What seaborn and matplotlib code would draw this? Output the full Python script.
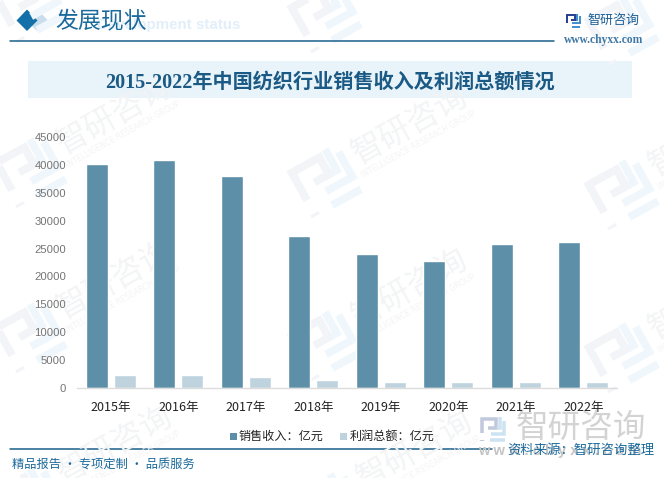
import math
import matplotlib
matplotlib.use('Agg')
import matplotlib.pyplot as plt
from matplotlib.patches import Polygon, Rectangle
import pandas as pd
import seaborn as sns

years = ['2015年', '2016年', '2017年', '2018年', '2019年', '2020年', '2021年', '2022年']
revenue = [40100, 40900, 38000, 27200, 24000, 22700, 25800, 26100]
profit = [2250, 2250, 2050, 1350, 1000, 1150, 1150, 1000]
y_ticks = list(range(0, 45001, 5000))
names = ['销售收入：亿元', '利润总额：亿元']
colors = ['#5d90a8', '#bed3dd']

W, H = 664, 478
CJK = ['Noto Sans CJK SC', 'DejaVu Sans']

sns.set_style('white')
plt.rcParams['font.family'] = CJK

df = pd.DataFrame({'year': years * 2,
                   'value': revenue + profit,
                   'name': [names[0]] * 8 + [names[1]] * 8})

fig = plt.figure(figsize=(W / 100, H / 100), dpi=100)

# full-figure layer in pixel coords for header, footer and watermarks
bg = fig.add_axes([0, 0, 1, 1], zorder=0)
bg.set_xlim(0, W)
bg.set_ylim(H, 0)
bg.axis('off')


def draw_logo(cx, cy, half, rot, c1, c2):
    a = math.radians(rot)

    def tr(pts):
        xs = [cx + half * (x * math.cos(a) + y * math.sin(a)) for x, y in pts]
        ys = [cy + half * (-x * math.sin(a) + y * math.cos(a)) for x, y in pts]
        return xs, ys

    lw = half * 0.26 * 0.72
    left = [(-0.85, 0.3), (-0.85, -0.75), (0.2, -0.75), (0.2, -0.1), (-0.35, -0.1)]
    right = [(0.85, -0.6), (0.85, 0.35), (-0.15, 0.35)]
    right2 = [(0.5, -0.9), (0.5, -0.1), (0.3, -0.1)]
    bottom = [(-0.2, 0.85), (0.9, 0.85)]
    dot = [(-0.85, 0.8), (-0.85, 0.9)]
    bg.plot(*tr(left), color=c1, lw=lw, solid_capstyle='butt', solid_joinstyle='miter')
    bg.plot(*tr(dot), color=c1, lw=lw * 1.2, solid_capstyle='butt')
    bg.plot(*tr(right), color=c2, lw=lw, solid_capstyle='butt', solid_joinstyle='miter')
    bg.plot(*tr(right2), color=c2, lw=lw, solid_capstyle='butt', solid_joinstyle='miter')
    bg.plot(*tr(bottom), color=c2, lw=lw, solid_capstyle='butt')


# watermarks, logo centres with the text up and to the right
wm_logos = [(30, 5), (325, 15), (622, 28), (30, 170), (325, 180), (622, 192),
            (30, 335), (325, 343), (622, 355), (30, 500), (330, 505)]
for x, y in wm_logos:
    draw_logo(x, y, 30, 29, '#f2f4f8', '#f0f7fc')
    tx, ty = x + 85, y - 55
    if ty < 60:
        continue
    bg.text(tx, ty, '智研咨询', fontsize=23, color='#f3f4f5', rotation=29, ha='center', va='center',
            rotation_mode='anchor')
    bg.text(tx + 8, ty + 20, 'INTELLIGENCE RESEARCH GROUP', fontsize=5.6, color='#f3f4f6',
            rotation=29, ha='center', va='center', rotation_mode='anchor', family='DejaVu Sans')

bg.add_patch(Rectangle((28, 61), 604, 37, color='#e8f3fa', lw=0))
bg.text(330, 83, '2015-2022年中国纺织行业销售收入及利润总额情况', fontsize=14.5, fontweight='bold',
        color='#1b5a84', ha='center', va='center', family=['Liberation Serif', 'Noto Sans CJK SC'])

# header
bg.text(240, 25, 'Development status', fontsize=10.9, fontweight='bold', color='#e2effa',
        ha='right', va='center', family='Liberation Sans')
bg.add_patch(Polygon([(37, 9), (48, 20.5), (37, 31), (26, 20.5)], color='#c9deec', lw=0))
bg.add_patch(Polygon([(27, 9.5), (37.5, 20.5), (27, 31), (16.5, 20.5)], color='#1470a8', lw=0))
bg.text(55, 20.5, '发展现状', fontsize=16.5, color='#1b6a9c', ha='left', va='center')
bg.plot([10, 554], [41, 41], color='#1b5f8a', lw=1.1)
bg.text(588, 20, '智研咨询', fontsize=9.4, color='#1c5f96', ha='left', va='center')
bg.text(564, 40, 'www.chyxx.com', fontsize=8.3, color='#3f78a6', ha='left', va='center',
        family='Liberation Serif', fontweight='bold')
draw_logo(573.5, 20.5, 7.5, 0, '#243f8f', '#3f8fd0')

# footer
bg.plot([10, 492], [449, 449], color='#1b5f8a', lw=1.1)
bg.text(12, 464, '精品报告 · 专项定制 · 品质服务', fontsize=8.8, color='#1b6a9c', ha='left', va='center')
draw_logo(493, 429, 13.5, 0, '#c3c9dd', '#cde3f2')
bg.text(581, 428, '智研咨询', fontsize=23.5, color='#d3d3d3', ha='center', va='center')
bg.text(478, 451, 'w w w . c h y x x . c o m', fontsize=10.5, color='#c4c4c4', fontweight='bold',
        ha='left', va='center', family='Liberation Sans')
bg.add_patch(Rectangle((507, 443), 150, 15, color='white', alpha=0.55, lw=0))
bg.text(655, 450, '资料来源：智研咨询整理', fontsize=9.6, color='#1b6a9c', ha='right', va='center')

# chart
ax = fig.add_axes([77 / W, 1 - 388 / H, 540 / W, 251 / H], zorder=1)
ax.patch.set_alpha(0)
sns.barplot(data=df, x='year', y='value', hue='name', palette=colors, width=0.83, gap=0.2,
            saturation=1, ax=ax, legend=False)
ax.set_ylim(0, 45000)
ax.set_xlim(-0.5, 7.5)
ax.set_yticks(y_ticks)
ax.set_xlabel('')
ax.set_ylabel('')
ax.tick_params(axis='y', length=0, labelsize=8.1, labelcolor='#747474', pad=8)
ax.tick_params(axis='x', length=0, labelsize=9, labelcolor='#222222', pad=9)
for s in ['top', 'right', 'left']:
    ax.spines[s].set_visible(False)
ax.spines['bottom'].set_color('#dcdcdc')
ax.spines['bottom'].set_linewidth(1)
for lab in ax.get_yticklabels():
    lab.set_family('Liberation Sans')

# legend
bg.add_patch(Rectangle((230, 433), 7, 6.5, color=colors[0], lw=0))
bg.text(239, 436, names[0], fontsize=8.7, color='#222222', ha='left', va='center')
bg.add_patch(Rectangle((340, 433), 7, 6.5, color=colors[1], lw=0))
bg.text(350, 436, names[1], fontsize=8.7, color='#222222', ha='left', va='center')

fig.savefig('out.png', dpi=100)
